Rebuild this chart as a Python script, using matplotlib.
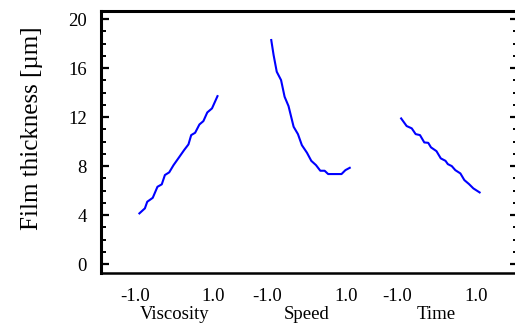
import matplotlib
matplotlib.use('Agg')
import matplotlib.pyplot as plt
from matplotlib.ticker import MultipleLocator

plt.rcParams['font.family'] = ['Liberation Serif', 'DejaVu Serif']

# coded factor level (-1..1) and film thickness [um] for each factor
viscosity_x = [-0.99, -0.85, -0.79, -0.65, -0.53, -0.42, -0.34, -0.23, -0.12, 0.03,
               0.15, 0.26, 0.33, 0.43, 0.54, 0.64, 0.74, 0.86, 1.0]
viscosity_y = [4.14, 4.55, 5.09, 5.41, 6.31, 6.51, 7.27, 7.49, 8.08, 8.76,
               9.31, 9.77, 10.53, 10.72, 11.40, 11.67, 12.38, 12.71, 13.71]

speed_x = [-1.0, -0.94, -0.86, -0.75, -0.66, -0.56, -0.43, -0.32, -0.22, -0.09,
           0.02, 0.14, 0.25, 0.36, 0.45, 0.79, 0.89, 1.0]
speed_y = [18.29, 17.06, 15.70, 15.02, 13.66, 12.90, 11.21, 10.61, 9.71, 9.09,
           8.43, 8.08, 7.62, 7.62, 7.35, 7.35, 7.67, 7.86]

time_x = [-1.0, -0.86, -0.73, -0.63, -0.52, -0.41, -0.31, -0.24, -0.10, 0.01,
          0.13, 0.19, 0.29, 0.38, 0.51, 0.61, 0.73, 0.84, 1.0]
time_y = [11.89, 11.27, 11.08, 10.61, 10.53, 9.93, 9.90, 9.53, 9.22, 8.63,
          8.43, 8.16, 8.00, 7.67, 7.40, 6.86, 6.53, 6.18, 5.85]

factors = ['Viscosity', 'Speed', 'Time']
tick_levels = ['-1.0', '1.0']
offsets = [0.0, 3.37, 6.68]

fig = plt.figure(figsize=(5.15, 3.27), dpi=100)
ax = fig.add_axes([0.196, 0.165, 0.81, 0.801])

series = [(viscosity_x, viscosity_y), (speed_x, speed_y), (time_x, time_y)]
for off, (xs, ys) in zip(offsets, series):
    ax.plot([x + off for x in xs], ys, color='#0000ff', lw=1.5)

ax.set_xlim(-1.97, 8.66)
ax.set_ylim(-0.73, 20.65)

# x tick labels (-1.0 / 1.0 under each factor), no tick marks
xt = []
xl = []
for off in offsets:
    xt += [off - 1.1, off + 0.9]
    xl += tick_levels
ax.set_xticks(xt)
ax.set_xticklabels(xl, fontsize=13.5)
ax.tick_params(axis='x', length=0, pad=11)

for off, name in zip(offsets, factors):
    ax.text(off - 0.1, -0.16, name, transform=ax.get_xaxis_transform(),
            ha='center', va='center', fontsize=13.5)

ax.yaxis.set_major_locator(MultipleLocator(4))
ax.yaxis.set_minor_locator(MultipleLocator(1))
ax.tick_params(axis='y', which='major', direction='in', length=6, width=1.6,
               labelsize=13.5, pad=10, right=True)
ax.tick_params(axis='y', which='minor', direction='in', length=3.5, width=1.4,
               right=True)

ax.spines['left'].set_linewidth(2.2)
ax.spines['top'].set_linewidth(2.2)
ax.spines['bottom'].set_linewidth(1.8)
ax.spines['right'].set_linewidth(1.8)

ax.set_ylabel('Film thickness [µm]', fontsize=18)
ax.yaxis.set_label_coords(-0.138, 0.554)

fig.savefig('out.png', dpi=100)
